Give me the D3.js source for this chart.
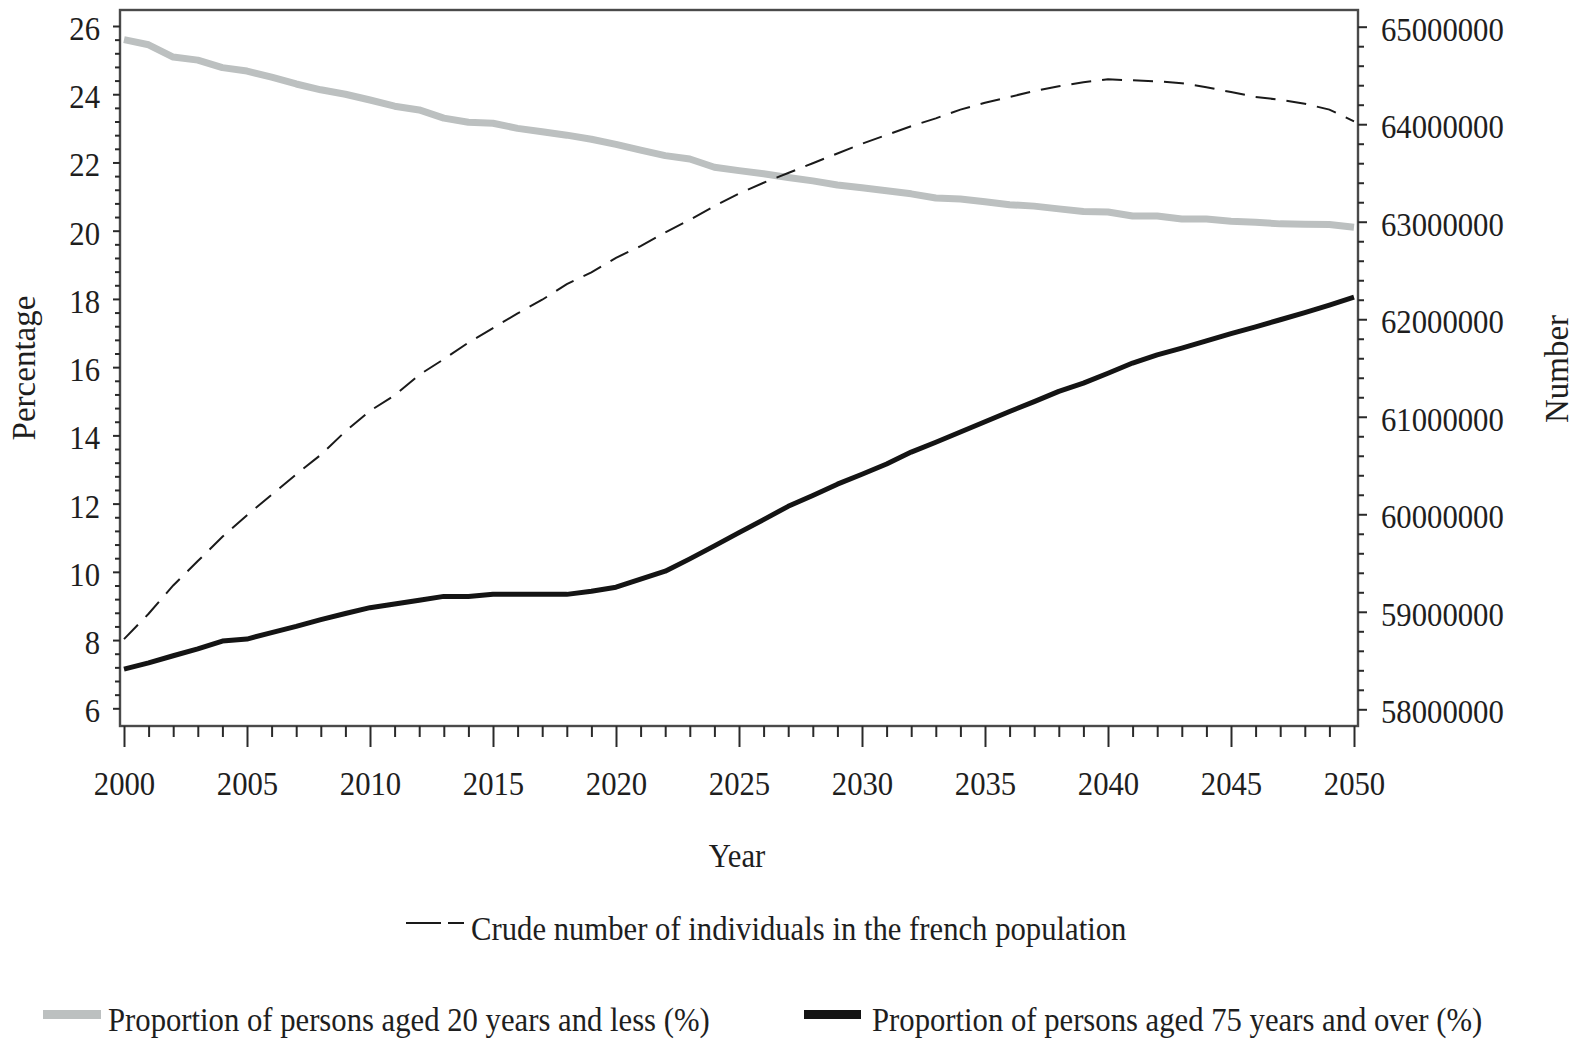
<!DOCTYPE html>
<html>
<head>
<meta charset="utf-8">
<script src="https://cdn.jsdelivr.net/npm/d3@7"></script>
<style>
  html, body { margin: 0; padding: 0; background: #fff; }
  svg { display: block; }
  text { font-family: "Liberation Serif", "Times New Roman", serif; fill: #1e1e1e; }
</style>
</head>
<body>
<svg id="chart" width="1582" height="1041"></svg>
<script>
// Years 2000–2050
const years = d3.range(2000, 2051);

// Proportion of persons aged 20 years and less (%)
const youngShare = [
  25.60, 25.45, 25.09, 25.00, 24.78, 24.68, 24.50, 24.30, 24.13, 24.00,
  23.83, 23.65, 23.54, 23.30, 23.18, 23.15, 23.00, 22.90, 22.80, 22.68,
  22.53, 22.36, 22.20, 22.10, 21.86, 21.76, 21.67, 21.56, 21.46, 21.34,
  21.26, 21.17, 21.08, 20.96, 20.93, 20.85, 20.76, 20.72, 20.64, 20.56,
  20.55, 20.43, 20.43, 20.34, 20.34, 20.28, 20.25, 20.20, 20.19, 20.18,
  20.10
];

// Proportion of persons aged 75 years and over (%)
const oldShare = [
   7.15,  7.33,  7.54,  7.74,  7.97,  8.03,  8.22,  8.40,  8.60,  8.78,
   8.95,  9.06,  9.17,  9.28,  9.28,  9.34,  9.34,  9.34,  9.34,  9.43,
   9.55,  9.79, 10.02, 10.38, 10.76, 11.15, 11.53, 11.92, 12.24, 12.57,
  12.86, 13.16, 13.51, 13.80, 14.10, 14.40, 14.70, 14.99, 15.29, 15.53,
  15.82, 16.12, 16.36, 16.56, 16.77, 16.98, 17.18, 17.39, 17.60, 17.82,
  18.05
];

// Crude number of individuals in the french population
const population = [
  58720000, 58980000, 59270000, 59520000, 59770000, 59990000, 60200000, 60410000, 60610000, 60850000,
  61060000, 61220000, 61430000, 61590000, 61760000, 61910000, 62060000, 62200000, 62360000, 62480000,
  62630000, 62750000, 62890000, 63020000, 63160000, 63290000, 63400000, 63500000, 63600000, 63700000,
  63800000, 63890000, 63980000, 64060000, 64150000, 64220000, 64280000, 64340000, 64390000, 64430000,
  64460000, 64450000, 64440000, 64420000, 64380000, 64330000, 64280000, 64250000, 64210000, 64150000,
  64030000
];

const xMajorTicks = d3.range(2000, 2051, 5);
const pctMajorTicks = d3.range(6, 26.01, 2);
const popMajorTicks = d3.range(58000000, 65000001, 1000000);

const legendDashLabel = "Crude number of individuals in the french population";
const legendYoungLabel = "Proportion of persons aged 20 years and less (%)";
const legendOldLabel = "Proportion of persons aged 75 years and over (%)";

// ---- layout ----
const frame = { left: 120, right: 1358, top: 10, bottom: 726 };
const FONT = 33;
const SQUISH = 0.93;
const GREY = "#bcc0c0";
const BLACK = "#141414";
const AXIS = "#2a2a2a";

const svg = d3.select("#chart");

const x = d3.scaleLinear().domain([2000, 2050]).range([124, 1354]);
const yPct = d3.scaleLinear().domain([6, 26]).range([708.3, 26]);
const yPop = d3.scaleLinear().domain([58000000, 65000000]).range([709.3, 26.7]);

// narrow the serif glyphs horizontally to the condensed look of the figure text
function squish(sel, k) {
  sel.each(function () {
    const L = this.getComputedTextLength();
    this.setAttribute("textLength", (L * k).toFixed(1));
    this.setAttribute("lengthAdjust", "spacingAndGlyphs");
  });
}

// ---- frame ----
svg.append("rect")
  .attr("x", frame.left).attr("y", frame.top)
  .attr("width", frame.right - frame.left)
  .attr("height", frame.bottom - frame.top)
  .attr("fill", "none")
  .attr("stroke", "#4a4a4a")
  .attr("stroke-width", 2.4);

// ---- series ----
const pts = years.map((yr, i) => ({ yr, young: youngShare[i], old: oldShare[i], pop: population[i] }));

svg.append("path")
  .datum(pts)
  .attr("fill", "none")
  .attr("stroke", GREY)
  .attr("stroke-width", 7)
  .attr("stroke-linejoin", "round")
  .attr("d", d3.line().x(d => x(d.yr)).y(d => yPct(d.young)));

svg.append("path")
  .datum(pts)
  .attr("fill", "none")
  .attr("stroke", BLACK)
  .attr("stroke-width", 5)
  .attr("stroke-linejoin", "round")
  .attr("d", d3.line().x(d => x(d.yr)).y(d => yPct(d.old)));

svg.append("path")
  .datum(pts)
  .attr("fill", "none")
  .attr("stroke", "#1a1a1a")
  .attr("stroke-width", 2)
  .attr("stroke-dasharray", "20,11")
  .attr("d", d3.line().x(d => x(d.yr)).y(d => yPop(d.pop)));

// ---- axes ----
function styleAxis(g) {
  g.select(".domain").remove();
  g.selectAll(".tick line").attr("stroke", AXIS).attr("stroke-width", 2);
  g.selectAll("text").attr("font-size", FONT).attr("fill", "#1e1e1e")
    .style("font-family", '"Liberation Serif", "Times New Roman", serif');
}

// left, percentage
const pctMinor = d3.range(6, 26.01, 0.4).filter(v => Math.abs(v / 2 - Math.round(v / 2)) > 1e-6);
svg.append("g").attr("transform", `translate(${frame.left},0)`)
  .call(d3.axisLeft(yPct).tickValues(pctMinor).tickSize(5).tickFormat(""))
  .call(styleAxis);
const gL = svg.append("g").attr("transform", `translate(${frame.left},0)`)
  .call(d3.axisLeft(yPct).tickValues(pctMajorTicks).tickSize(7).tickPadding(13).tickFormat(d3.format("d")))
  .call(styleAxis);
gL.selectAll("text").attr("dy", "0.41em");
squish(gL.selectAll("text"), SQUISH);

// right, number
const popMinor = d3.range(58000000, 65000001, 200000).filter(v => v % 1000000 !== 0);
svg.append("g").attr("transform", `translate(${frame.right},0)`)
  .call(d3.axisRight(yPop).tickValues(popMinor).tickSize(6).tickFormat(""))
  .call(styleAxis);
const gR = svg.append("g").attr("transform", `translate(${frame.right},0)`)
  .call(d3.axisRight(yPop).tickValues(popMajorTicks).tickSize(9).tickPadding(14).tickFormat(d3.format("d")))
  .call(styleAxis);
gR.selectAll("text").attr("dy", "0.41em");
squish(gR.selectAll("text"), SQUISH);

// bottom, year
const yearMinor = years.filter(v => v % 5 !== 0);
svg.append("g").attr("transform", `translate(0,${frame.bottom})`)
  .call(d3.axisBottom(x).tickValues(yearMinor).tickSize(11).tickFormat(""))
  .call(styleAxis);
const gB = svg.append("g").attr("transform", `translate(0,${frame.bottom})`)
  .call(d3.axisBottom(x).tickValues(xMajorTicks).tickSize(21).tickFormat(d3.format("d")))
  .call(styleAxis);
gB.selectAll("text").attr("y", 69).attr("dy", 0);
squish(gB.selectAll("text"), SQUISH);

// ---- axis titles ----
const tY = svg.append("text").attr("x", 737).attr("y", 867)
  .attr("text-anchor", "middle").attr("font-size", FONT).text("Year");
squish(tY, SQUISH);

svg.append("text")
  .attr("transform", "translate(35,368) rotate(-90)")
  .attr("text-anchor", "middle").attr("font-size", FONT).text("Percentage");

svg.append("text")
  .attr("transform", "translate(1568,369) rotate(-90)")
  .attr("text-anchor", "middle").attr("font-size", FONT).text("Number");

// ---- legend ----
svg.append("line")
  .attr("x1", 406).attr("x2", 464).attr("y1", 923).attr("y2", 923)
  .attr("stroke", "#1a1a1a").attr("stroke-width", 2)
  .attr("stroke-dasharray", "35,7,17");
const l1 = svg.append("text").attr("x", 471).attr("y", 940)
  .attr("font-size", FONT).text(legendDashLabel);
squish(l1, SQUISH);

svg.append("rect").attr("x", 43).attr("y", 1010).attr("width", 58).attr("height", 9).attr("fill", GREY);
const l2 = svg.append("text").attr("x", 108).attr("y", 1031)
  .attr("font-size", FONT).text(legendYoungLabel);
squish(l2, SQUISH);

svg.append("rect").attr("x", 804).attr("y", 1010).attr("width", 57).attr("height", 9).attr("fill", BLACK);
const l3 = svg.append("text").attr("x", 872).attr("y", 1031)
  .attr("font-size", FONT).text(legendOldLabel);
squish(l3, SQUISH);
</script>
</body>
</html>
